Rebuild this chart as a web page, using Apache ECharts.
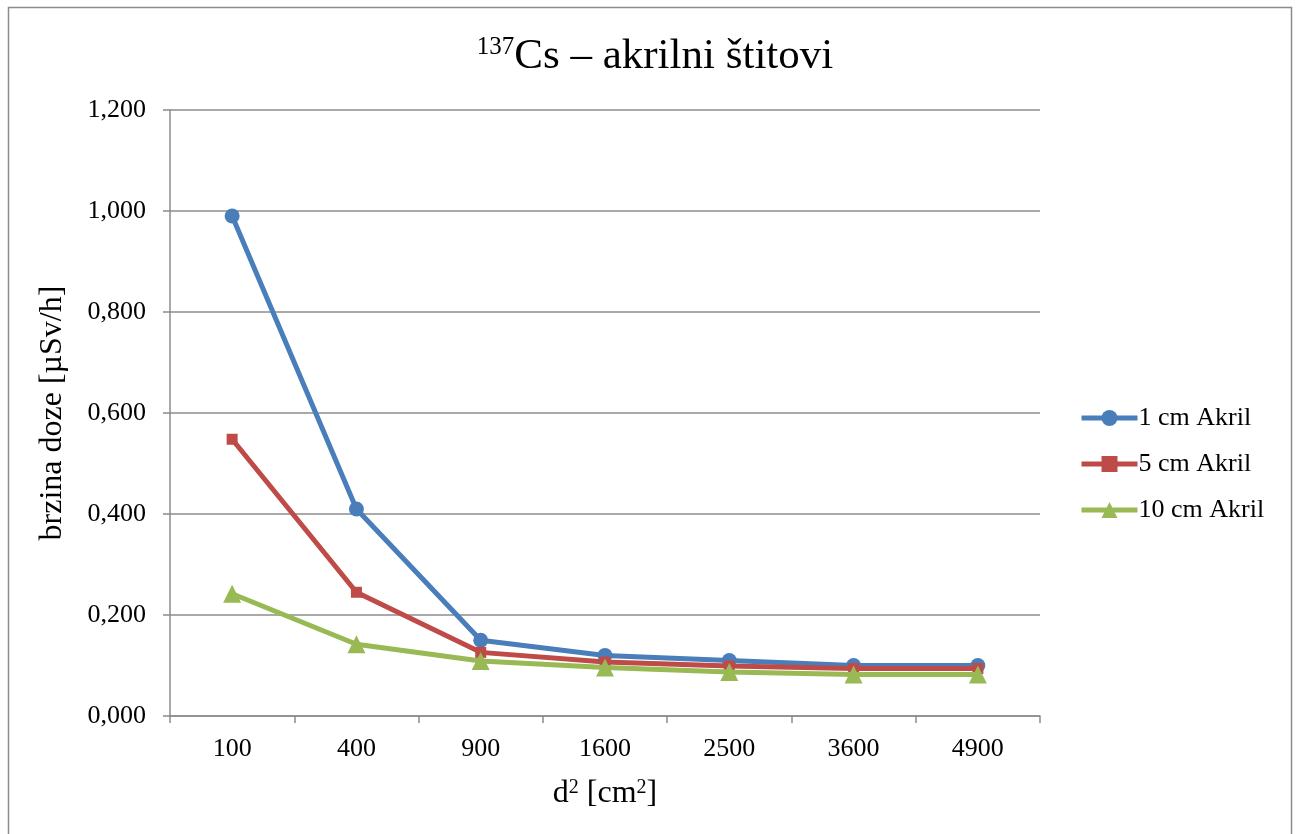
<!DOCTYPE html>
<html>
<head>
<meta charset="utf-8">
<script src="https://cdn.jsdelivr.net/npm/echarts@6/dist/echarts.min.js"></script>
<style>html,body{margin:0;padding:0;background:#fff;}#c{width:1300px;height:834px;}</style>
</head>
<body>
<div id="c"></div>
<script>
const categories = ['100', '400', '900', '1600', '2500', '3600', '4900'];
const akril1 = [0.990, 0.410, 0.150, 0.120, 0.110, 0.100, 0.100];
const akril5 = [0.548, 0.245, 0.126, 0.107, 0.099, 0.094, 0.094];
const akril10 = [0.242, 0.142, 0.109, 0.096, 0.087, 0.082, 0.082];
const seriesNames = ['1 cm Akril', '5 cm Akril', '10 cm Akril'];

const chart = echarts.init(document.getElementById('c'));
const font = "'Liberation Serif', 'Times New Roman', serif";
const gridColor = '#8c8c8c';
chart.setOption({
  animation: false,
  backgroundColor: '#fff',
  textStyle: { fontFamily: font, color: '#000', fontWeight: 'normal' },
  graphic: [{
    type: 'rect', shape: { x: 8.5, y: 7.5, width: 1283, height: 850 },
    style: { fill: 'none', stroke: '#8c8c8c', lineWidth: 1.5 }, silent: true
  }],
  title: {
    text: '{sup|137}{main|Cs – akrilni štitovi}',
    left: 650, top: 30, textAlign: 'center',
    textStyle: {
      fontWeight: 'normal',
      rich: {
        sup: { fontFamily: font, fontSize: 25, fontWeight: 'normal', color: '#000', verticalAlign: 'top', padding: [0, 0, 16, 0] },
        main: { fontFamily: font, fontSize: 43, fontWeight: 'normal', color: '#000' }
      }
    }
  },
  legend: {
    orient: 'vertical', left: 1074, top: 400, itemGap: 20,
    itemWidth: 56, itemHeight: 20,
    lineStyle: { width: 5 },
    textStyle: { fontFamily: font, fontSize: 26, color: '#000', padding: [0, 0, 0, -4] },
    data: seriesNames
  },
  grid: { left: 170, top: 110, width: 870, height: 606, containLabel: false },
  xAxis: {
    type: 'category', data: categories, boundaryGap: true,
    name: '{a|d}{s|2}{a| [cm}{s|2}{a|]}', nameLocation: 'middle', nameGap: 62,
    nameTextStyle: { rich: {
      a: { fontFamily: font, fontSize: 32, color: '#000' },
      s: { fontFamily: font, fontSize: 20, color: '#000', verticalAlign: 'top', padding: [0, 0, 12, 0] }
    } },
    axisLine: { lineStyle: { color: gridColor, width: 1.5 } },
    axisTick: { show: true, length: 7, lineStyle: { color: gridColor, width: 1.5 } },
    axisLabel: { fontFamily: font, fontSize: 26, color: '#000', margin: 20 },
    splitLine: { show: false }
  },
  yAxis: {
    type: 'value', min: 0, max: 1.2, interval: 0.2,
    name: 'brzina doze [µSv/h]', nameLocation: 'middle', nameGap: 101, nameRotate: 90,
    nameTextStyle: { fontFamily: font, fontSize: 32, color: '#000' },
    axisLine: { show: true, lineStyle: { color: gridColor, width: 1.5 } },
    axisTick: { show: true, length: 7, lineStyle: { color: gridColor, width: 1.5 } },
    axisLabel: { fontFamily: font, fontSize: 26, color: '#000', margin: 24,
      formatter: v => v.toFixed(3).replace('.', ',') },
    splitLine: { lineStyle: { color: gridColor, width: 1.5 } }
  },
  series: [
    { name: seriesNames[0], type: 'line', data: akril1, symbol: 'circle', symbolSize: 15,
      lineStyle: { width: 5, color: '#4a7ebb' }, itemStyle: { color: '#4a7ebb' }, z: 3 },
    { name: seriesNames[1], type: 'line', data: akril5, symbol: 'rect', symbolSize: 11,
      lineStyle: { width: 5, color: '#be4b48' }, itemStyle: { color: '#be4b48' }, z: 4 },
    { name: seriesNames[2], type: 'line', data: akril10, symbol: 'triangle', symbolSize: 18,
      lineStyle: { width: 5, color: '#98b954' }, itemStyle: { color: '#98b954' }, z: 5 }
  ]
});
</script>
</body>
</html>
